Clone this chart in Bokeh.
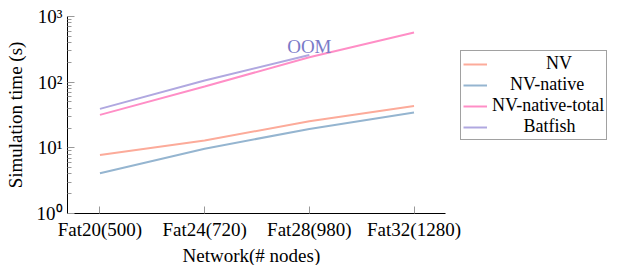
from bokeh.plotting import figure
from bokeh.models import Legend, LegendItem, Label, FixedTicker, Title
from bokeh.embed import file_html
from bokeh.resources import INLINE

networks = ["Fat20(500)", "Fat24(720)", "Fat28(980)", "Fat32(1280)"]
nv = [7.8, 12.9, 25.4, 43.5]
nv_native = [4.1, 9.7, 19.4, 34.4]
nv_native_total = [31.8, 85.7, 240, 569]
batfish = [39.2, 106, 260]
series_names = ["NV", "NV-native", "NV-native-total", "Batfish"]
series_colors = ["#fcab9a", "#95b5d0", "#ff8ec6", "#b0a8e0"]
oom_text = "OOM"

FONT = "Liberation Serif"
xs = list(range(len(networks)))

p = figure(frame_width=558, frame_height=197, y_axis_type="log",
           x_range=(-0.31, 5.02), y_range=(1, 1000),
           output_backend="svg", toolbar_location=None,
           min_border_left=67, min_border_right=0, min_border_top=16, min_border_bottom=20)
p.outline_line_color = None
p.grid.visible = False

items = []
pad = ["\u00a0" * 12, "\u00a0" * 4, "", "\u00a0" * 7]
for name, vals, col, pd in zip(series_names, [nv, nv_native, nv_native_total, batfish], series_colors, pad):
    r = p.line(xs[:len(vals)], vals, line_color=col, line_width=2)
    items.append(LegendItem(label=pd + name, renderers=[r]))

p.xaxis.ticker = FixedTicker(ticks=xs)
p.xaxis.major_label_overrides = {i: n for i, n in enumerate(networks)}
p.xaxis.bounds = (-0.31, 3.30)
p.yaxis.ticker = FixedTicker(ticks=[1, 10, 100, 1000],
                             minor_ticks=[v * d for d in (1, 10, 100) for v in range(2, 10)])
for ax in (p.xaxis[0], p.yaxis[0]):
    ax.axis_line_color = "black"
    ax.axis_line_width = 1
    ax.major_label_text_font = FONT
    ax.major_label_text_font_size = "19px"
    ax.major_label_text_color = "black"
    ax.axis_label_text_font = FONT
    ax.axis_label_text_font_size = "19px"
    ax.axis_label_text_font_style = "normal"
    ax.axis_label_text_color = "black"
    ax.major_tick_line_color = "#999999"
    ax.minor_tick_line_color = "#999999"
    ax.major_tick_in = 7
    ax.major_tick_out = 0
    ax.minor_tick_in = 4
    ax.minor_tick_out = 0
p.yaxis.axis_label = "Simulation time (s)"
p.yaxis.major_label_overrides = {1: "10⁰", 10: "10¹", 100: "10²", 1000: "10³"}
p.xaxis.major_label_standoff = 5
p.yaxis.major_label_standoff = 5
p.yaxis.axis_label_standoff = 8

p.add_layout(Title(text="Network(# nodes)", align="left", offset=115, standoff=0,
                   text_font=FONT, text_font_size="19px", text_font_style="normal",
                   text_color="black"), "below")

p.add_layout(Label(x=2, y=350, text=oom_text, text_font=FONT, text_font_size="19px",
                   text_color="#7a7ac8", text_align="center", text_baseline="alphabetic"))

legend = Legend(items=items, location=(393, 73), border_line_color="#444444", border_line_width=1,
                label_text_font=FONT, label_text_font_size="18px",
                label_height=18, glyph_height=18, glyph_width=24, spacing=0, padding=2, margin=0,
                label_standoff=5, background_fill_alpha=1, label_text_color="black")
p.add_layout(legend)

open("out.html", "w").write(file_html(p, INLINE))
